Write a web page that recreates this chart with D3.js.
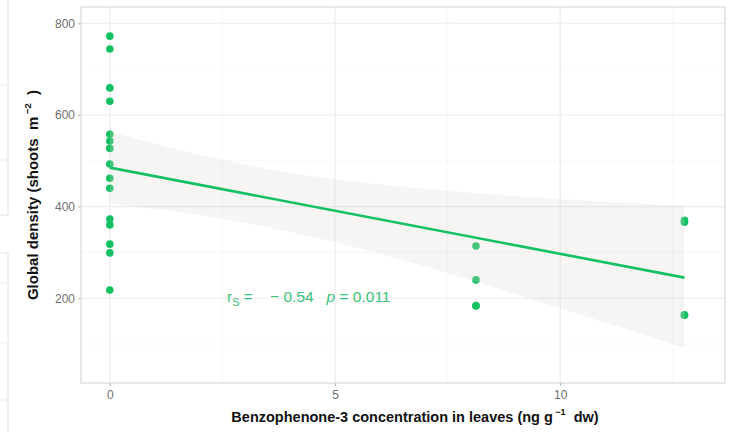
<!DOCTYPE html>
<html>
<head>
<meta charset="utf-8">
<script src="https://cdn.jsdelivr.net/npm/d3@7"></script>
<style>
  body { margin: 0; background: #fff; }
  svg { font-family: "Liberation Sans", Arial, sans-serif; }
  text { white-space: pre; }
</style>
</head>
<body>
<svg id="chart"></svg>
<script>
// data
const concX = [0, 0, 0, 0, 0, 0, 0, 0, 0, 0, 0, 0, 0, 0, 0, 8.13, 8.13, 8.13, 8.13, 12.76, 12.76, 12.76, 12.76];
const density = [772, 744, 659, 630, 558, 543, 527, 493, 462, 440, 373, 360, 318, 299, 218, 314, 240, 183, 184, 370, 366, 163, 164];

const fitX = [0, 12.76];
const fitY = [485, 245];

const bandX = [0, 2, 4, 6, 8, 10, 12.76];
const bandUpper = [564, 513, 474, 448, 430, 416, 402];
const bandLower = [406, 382, 345, 297, 240, 178, 92];

const xTicks = [0, 5, 10];
const xMinor = [2.5, 7.5, 12.5];
const yTicks = [200, 400, 600, 800];
const yMinor = [100, 300, 500, 700];

const W = 731, H = 432;
const margin = { top: 7, right: 6, bottom: 49, left: 81 };
const green = "#14c162";

const svg = d3.select("#chart").attr("width", W).attr("height", H);

// fragments of the neighbouring panels on the left edge
const ghost = svg.append("g").attr("stroke", "#e2e2e2").attr("fill", "none");
ghost.append("path").attr("d", "M8,0V215H0");
ghost.append("path").attr("d", "M0,253H8V432");
[85, 160, 283, 343, 400].forEach(y => {
    ghost.append("line").attr("x1", 0).attr("x2", 8).attr("y1", y).attr("y2", y).attr("stroke", "#efefef");
});

const x = d3.scaleLinear().domain([-0.64, 13.66]).range([margin.left, W - margin.right]);
const y = d3.scaleLinear().domain([15, 835.6]).range([H - margin.bottom, margin.top]);

const grid = svg.append("g");
grid.selectAll(".ymin").data(yMinor).join("line")
    .attr("x1", x.range()[0]).attr("x2", x.range()[1])
    .attr("y1", d => y(d)).attr("y2", d => y(d))
    .attr("stroke", "#f4f4f4").attr("stroke-width", 0.6);
grid.selectAll(".xmin").data(xMinor).join("line")
    .attr("y1", y.range()[0]).attr("y2", y.range()[1])
    .attr("x1", d => x(d)).attr("x2", d => x(d))
    .attr("stroke", "#f4f4f4").attr("stroke-width", 0.6);
grid.selectAll(".ymaj").data(yTicks).join("line")
    .attr("x1", x.range()[0]).attr("x2", x.range()[1])
    .attr("y1", d => y(d)).attr("y2", d => y(d))
    .attr("stroke", "#ebebeb").attr("stroke-width", 1.1);
grid.selectAll(".xmaj").data(xTicks).join("line")
    .attr("y1", y.range()[0]).attr("y2", y.range()[1])
    .attr("x1", d => x(d)).attr("x2", d => x(d))
    .attr("stroke", "#ebebeb").attr("stroke-width", 1.1);

// points
svg.append("g").selectAll("circle")
    .data(concX.map((c, i) => [c, density[i]]))
    .join("circle")
    .attr("cx", d => x(d[0]))
    .attr("cy", d => y(d[1]))
    .attr("r", 3.8)
    .attr("fill", green);

// confidence band
const band = d3.area()
    .x((d, i) => x(bandX[i]))
    .y0((d, i) => y(bandLower[i]))
    .y1((d, i) => y(bandUpper[i]))
    .curve(d3.curveMonotoneX);
svg.append("path")
    .datum(bandX)
    .attr("d", band)
    .attr("fill", "#dcd2d2")
    .attr("fill-opacity", 0.24);

// fitted line
svg.append("line")
    .attr("x1", x(fitX[0])).attr("y1", y(fitY[0]))
    .attr("x2", x(fitX[1])).attr("y2", y(fitY[1]))
    .attr("stroke", green)
    .attr("stroke-width", 2.6);

// panel border
svg.append("rect")
    .attr("x", x.range()[0]).attr("y", y.range()[1])
    .attr("width", x.range()[1] - x.range()[0])
    .attr("height", y.range()[0] - y.range()[1])
    .attr("fill", "none")
    .attr("stroke", "#d6d6d6")
    .attr("stroke-width", 1.1);

// axes
const xAxis = svg.append("g")
    .attr("transform", `translate(0, ${y.range()[0]})`)
    .call(d3.axisBottom(x).tickValues(xTicks).tickSize(3).tickPadding(4));
const yAxis = svg.append("g")
    .attr("transform", `translate(${x.range()[0]}, 0)`)
    .call(d3.axisLeft(y).tickValues(yTicks).tickSize(3).tickPadding(3));
[xAxis, yAxis].forEach(a => {
    a.select(".domain").remove();
    a.selectAll(".tick line").attr("stroke", "#b3b3b3");
    a.selectAll(".tick text").attr("fill", "#707070").attr("font-size", "12px");
});

// axis titles
const xt = svg.append("text")
    .attr("x", (x.range()[0] + x.range()[1]) / 2 + 12)
    .attr("y", 422)
    .attr("text-anchor", "middle")
    .attr("font-size", "14.5px")
    .attr("font-weight", "bold")
    .attr("fill", "#111");
xt.append("tspan").text("Benzophenone-3 concentration in leaves (ng g");
xt.append("tspan").attr("dy", -7).attr("font-size", "9px").text(" \u22121");
xt.append("tspan").attr("dy", 7).text("  dw)");

const yt = svg.append("text")
    .attr("transform", `translate(38, ${(y.range()[0] + y.range()[1]) / 2}) rotate(-90)`)
    .attr("text-anchor", "middle")
    .attr("font-size", "15px")
    .attr("font-weight", "bold")
    .attr("fill", "#111");
yt.append("tspan").text("Global density (shoots  m");
yt.append("tspan").attr("dy", -7).attr("font-size", "9.5px").text(" \u22122");
yt.append("tspan").attr("dy", 7).text("  )");

// correlation label
const ann = svg.append("text")
    .attr("x", 227)
    .attr("y", 302)
    .attr("font-size", "15.5px")
    .attr("fill", "#3cc278");
ann.append("tspan").text("r");
ann.append("tspan").attr("dy", 4).attr("font-size", "11px").text("S");
ann.append("tspan").attr("dy", -4).text(" =    \u2212 0.54   ");
ann.append("tspan").attr("font-style", "italic").text("p");
ann.append("tspan").text(" = 0.011");
</script>
</body>
</html>
